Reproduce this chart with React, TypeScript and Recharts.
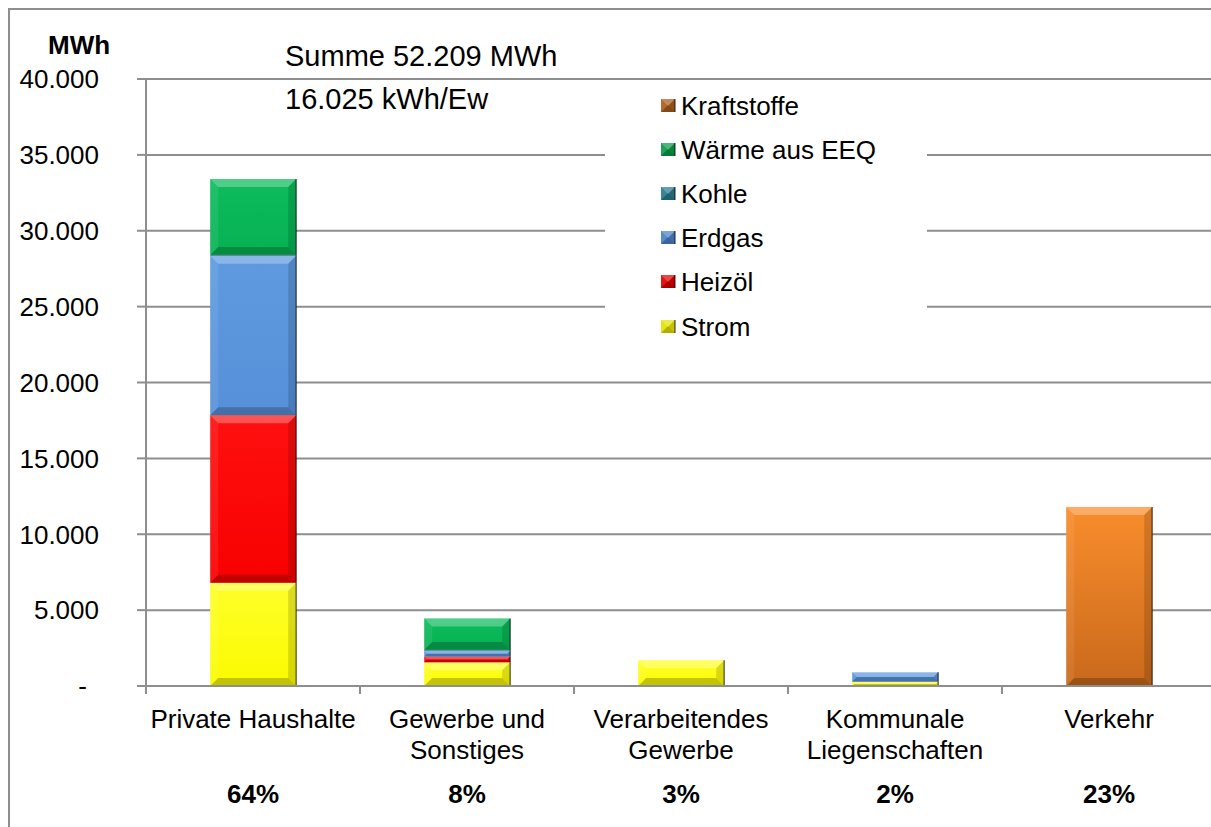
import React from 'react'
import { BarChart, Bar, XAxis, YAxis, CartesianGrid, Legend } from 'recharts'

// categories and labels
const categories = ['Private Haushalte', 'Gewerbe und Sonstiges', 'Verarbeitendes Gewerbe', 'Kommunale Liegenschaften', 'Verkehr']
const categoryLines = [['Private Haushalte'], ['Gewerbe und', 'Sonstiges'], ['Verarbeitendes', 'Gewerbe'], ['Kommunale', 'Liegenschaften'], ['Verkehr']]
const shares = ['64%', '8%', '3%', '2%', '23%']

// MWh per sector and energy carrier
const strom = [6800, 1560, 1700, 280, 0]
const heizoel = [11050, 370, 0, 0, 0]
const erdgas = [10500, 400, 0, 620, 0]
const kohle = [60, 50, 0, 0, 0]
const waerme = [5000, 2070, 0, 0, 0]
const kraftstoffe = [0, 0, 0, 0, 11800]

const yTicks = [0, 5000, 10000, 15000, 20000, 25000, 30000, 35000, 40000]

const seriesKeys = ['strom', 'heizoel', 'erdgas', 'kohle', 'waerme', 'kraftstoffe']
const seriesNames = ['Strom', 'Heizöl', 'Erdgas', 'Kohle', 'Wärme aus EEQ', 'Kraftstoffe']
const seriesValues = [strom, heizoel, erdgas, kohle, waerme, kraftstoffe]

const data = categories.map((c, i) => {
  const row: Record<string, any> = { name: c }
  seriesKeys.forEach((k, j) => { row[k] = seriesValues[j][i] })
  return row
})

const colors: Record<string, { top: string; bottom: string; legend: string }> = {
  strom: { top: '#ffff2a', bottom: '#fafa00', legend: '#e3e300' },
  heizoel: { top: '#ff1010', bottom: '#f80000', legend: '#e00000' },
  erdgas: { top: '#5f9ae0', bottom: '#5690d8', legend: '#4a80c8' },
  kohle: { top: '#3590a8', bottom: '#2c7d93', legend: '#2a7a90' },
  waerme: { top: '#0cbc5c', bottom: '#07b153', legend: '#0a9a48' },
  kraftstoffe: { top: '#f98d2c', bottom: '#c9691c', legend: '#ab5e1e' },
}

const FONT = '"Liberation Sans", Arial, sans-serif'
const GRID = '#8e8e8e'
const CHART_W = 1240
const CHART_H = 817
const MARGIN = { top: 69, right: 34, bottom: 21, left: 56 }
const Y_W = 80
const BAND = (CHART_W - MARGIN.left - MARGIN.right - Y_W) / categories.length

const fmt = (v: number) => (v === 0 ? '-' : String(v).replace(/\B(?=(\d{3})+(?!\d))/g, '.'))

const Bevel = ({ x, y, width, height, fill }: any) => {
  const b = Math.min(8, height / 2, width / 2)
  return (
    <g>
      <rect x={x} y={y} width={width} height={height} fill={fill} />
      <polygon points={`${x},${y} ${x + width},${y} ${x + width - b},${y + b} ${x + b},${y + b}`} fill="#fff" fillOpacity={0.28} />
      <polygon points={`${x},${y} ${x + b},${y + b} ${x + b},${y + height - b} ${x},${y + height}`} fill="#fff" fillOpacity={0.08} />
      <polygon points={`${x + width},${y} ${x + width},${y + height} ${x + width - b},${y + height - b} ${x + width - b},${y + b}`} fill="#000" fillOpacity={0.14} />
      <polygon points={`${x},${y + height} ${x + width},${y + height} ${x + width - b},${y + height - b} ${x + b},${y + height - b}`} fill="#000" fillOpacity={0.22} />
      <line x1={x + width} y1={y} x2={x + width} y2={y + height} stroke="#000" strokeOpacity={0.55} strokeWidth={1.5} />
    </g>
  )
}

const makeShape = (key: string) => (props: any) => {
  const { x, y, width, height } = props
  if (!height || height <= 0.3) return <g />
  return <Bevel x={x} y={y} width={width} height={height} fill={`url(#grad-${key})`} />
}

const YTick = ({ x, y, payload }: any) => (
  <text x={payload.value === 0 ? x - 12 : x} y={y} dy="0.36em" textAnchor="end" fontSize={26} fontFamily={FONT} fill="#000">
    {fmt(payload.value)}
  </text>
)

const XTick = ({ x, y, payload }: any) => {
  const i = categories.indexOf(payload.value)
  const lines = categoryLines[i] || []
  return (
    <g>
      <line x1={x - BAND / 2} y1={y - 8} x2={x - BAND / 2} y2={y} stroke={GRID} strokeWidth={2} />
      {i === categories.length - 1 && <line x1={x + BAND / 2} y1={y - 8} x2={x + BAND / 2} y2={y} stroke={GRID} strokeWidth={2} />}
      {lines.map((l, k) => (
        <text key={k} x={x} y={y + 34 + k * 31} textAnchor="middle" fontSize={26} fontFamily={FONT} fill="#000">{l}</text>
      ))}
      <text x={x} y={y + 109} textAnchor="middle" fontSize={26} fontWeight="bold" fontFamily={FONT} fill="#000">{shares[i]}</text>
    </g>
  )
}

const LegendBox = () => {
  const order = [...seriesKeys].reverse()
  return (
    <div style={{ width: 322, height: 266, background: '#fff', position: 'relative' }}>
      {order.map((k, i) => {
        const name = seriesNames[seriesKeys.indexOf(k)]
        return (
          <div key={k} style={{ position: 'absolute', left: 56, top: 22 + i * 44.1 - 15, height: 30, display: 'flex', alignItems: 'center' }}>
            <svg width={16} height={14} style={{ marginRight: 4 }}>
              <Bevel x={0} y={0} width={14} height={13} fill={colors[k].legend} />
            </svg>
            <span style={{ fontSize: 26, fontFamily: FONT, color: '#000', lineHeight: '30px', whiteSpace: 'nowrap' }}>{name}</span>
          </div>
        )
      })}
    </div>
  )
}

export default function App() {
  return (
    <div style={{ position: 'fixed', left: 8, top: 8, width: 1201, height: 817, borderLeft: `2px solid ${GRID}`, borderTop: `2px solid ${GRID}`, overflow: 'hidden', background: '#fff', fontFamily: FONT }}>
      <BarChart width={CHART_W} height={CHART_H} data={data} margin={MARGIN} barCategoryGap="30%">
        <defs>
          {seriesKeys.map((k) => (
            <linearGradient key={k} id={`grad-${k}`} x1="0" y1="0" x2="0" y2="1">
              <stop offset="0%" stopColor={colors[k].top} />
              <stop offset="100%" stopColor={colors[k].bottom} />
            </linearGradient>
          ))}
        </defs>
        <CartesianGrid vertical={false} stroke={GRID} strokeWidth={2} />
        <XAxis
          dataKey="name"
          height={120}
          interval={0}
          tickSize={8}
          tickMargin={0}
          tickLine={false}
          axisLine={{ stroke: GRID, strokeWidth: 2 }}
          tick={<XTick />}
        />
        <YAxis
          width={Y_W}
          domain={[0, 40000]}
          ticks={yTicks}
          interval={0}
          tickSize={9}
          tickMargin={38}
          tickLine={{ stroke: GRID, strokeWidth: 2 }}
          axisLine={{ stroke: GRID, strokeWidth: 2 }}
          tick={<YTick />}
        />
        <Legend
          layout="vertical"
          align="center"
          verticalAlign="middle"
          wrapperStyle={{ left: 595, top: 74, width: 322, height: 266 }}
          content={<LegendBox />}
        />
        {seriesKeys.map((k, j) => (
          <Bar key={k} dataKey={k} name={seriesNames[j]} stackId="a" fill={colors[k].bottom} shape={makeShape(k)} isAnimationActive={false} />
        ))}
      </BarChart>
      <div style={{ position: 'absolute', left: 38, top: 22, fontSize: 26, fontWeight: 'bold', lineHeight: 1 }}>MWh</div>
      <div style={{ position: 'absolute', left: 275, top: 31.5, fontSize: 29, lineHeight: 1 }}>Summe 52.209 MWh</div>
      <div style={{ position: 'absolute', left: 275, top: 74.5, fontSize: 29, lineHeight: 1 }}>16.025 kWh/Ew</div>
    </div>
  )
}
